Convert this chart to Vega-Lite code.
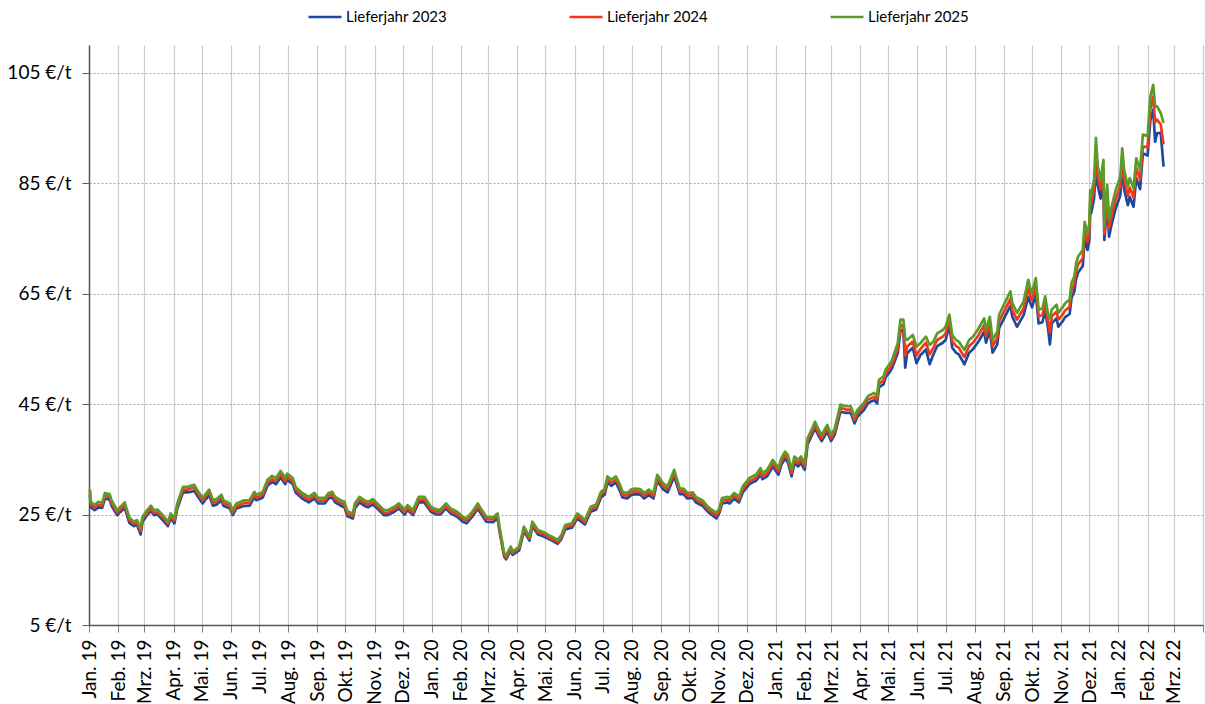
{
"$schema": "https://vega.github.io/schema/vega-lite/v6.json",
"width": 1114, "height": 580,
"autosize": {"type": "none"},
"padding": {"left": 89, "top": 45, "right": 2, "bottom": 79},
"background": "white",
"config": {"font": "Lato", "view": {"stroke": null}},
"data": {"values": [
{"d":"2019-01-02","2023":28.5,"2024":29.0,"2025":29.5},
{"d":"2019-01-03","2023":26.3,"2024":26.8,"2025":27.3},
{"d":"2019-01-07","2023":25.8,"2024":26.2,"2025":26.7},
{"d":"2019-01-11","2023":26.3,"2024":26.8,"2025":27.3},
{"d":"2019-01-15","2023":26.2,"2024":26.6,"2025":27.1},
{"d":"2019-01-18","2023":27.9,"2024":28.4,"2025":28.9},
{"d":"2019-01-23","2023":27.7,"2024":28.2,"2025":28.7},
{"d":"2019-01-25","2023":26.6,"2024":27.1,"2025":27.6},
{"d":"2019-01-31","2023":24.9,"2024":25.3,"2025":25.8},
{"d":"2019-02-08","2023":26.2,"2024":26.7,"2025":27.2},
{"d":"2019-02-13","2023":23.5,"2024":24.0,"2025":24.4},
{"d":"2019-02-18","2023":22.9,"2024":23.3,"2025":23.7},
{"d":"2019-02-21","2023":23.2,"2024":23.6,"2025":24.0},
{"d":"2019-02-25","2023":21.4,"2024":22.0,"2025":22.6},
{"d":"2019-02-27","2023":23.7,"2024":24.2,"2025":24.6},
{"d":"2019-03-04","2023":24.9,"2024":25.3,"2025":25.8},
{"d":"2019-03-08","2023":25.7,"2024":26.1,"2025":26.6},
{"d":"2019-03-11","2023":24.9,"2024":25.3,"2025":25.8},
{"d":"2019-03-15","2023":25.0,"2024":25.4,"2025":25.9},
{"d":"2019-03-22","2023":23.7,"2024":24.2,"2025":24.6},
{"d":"2019-03-26","2023":22.9,"2024":23.3,"2025":23.7},
{"d":"2019-03-29","2023":24.3,"2024":24.7,"2025":25.2},
{"d":"2019-04-02","2023":23.4,"2024":23.9,"2025":24.3},
{"d":"2019-04-05","2023":26.1,"2024":26.5,"2025":27.0},
{"d":"2019-04-11","2023":29.0,"2024":29.5,"2025":30.0},
{"d":"2019-04-16","2023":29.0,"2024":29.5,"2025":30.0},
{"d":"2019-04-19","2023":29.1,"2024":29.7,"2025":30.2},
{"d":"2019-04-23","2023":29.3,"2024":29.9,"2025":30.4},
{"d":"2019-04-26","2023":28.5,"2024":29.0,"2025":29.5},
{"d":"2019-05-02","2023":27.0,"2024":27.5,"2025":28.0},
{"d":"2019-05-06","2023":27.9,"2024":28.4,"2025":28.9},
{"d":"2019-05-09","2023":28.5,"2024":29.0,"2025":29.5},
{"d":"2019-05-13","2023":26.6,"2024":27.1,"2025":27.6},
{"d":"2019-05-17","2023":26.8,"2024":27.3,"2025":27.8},
{"d":"2019-05-22","2023":27.6,"2024":28.1,"2025":28.6},
{"d":"2019-05-24","2023":26.6,"2024":27.1,"2025":27.6},
{"d":"2019-05-31","2023":26.1,"2024":26.5,"2025":27.0},
{"d":"2019-06-03","2023":24.9,"2024":25.3,"2025":25.8},
{"d":"2019-06-07","2023":26.1,"2024":26.5,"2025":27.0},
{"d":"2019-06-14","2023":26.5,"2024":27.0,"2025":27.5},
{"d":"2019-06-21","2023":26.6,"2024":27.1,"2025":27.6},
{"d":"2019-06-26","2023":28.1,"2024":28.6,"2025":29.1},
{"d":"2019-06-28","2023":27.6,"2024":28.1,"2025":28.6},
{"d":"2019-07-03","2023":27.9,"2024":28.4,"2025":28.9},
{"d":"2019-07-05","2023":28.1,"2024":28.6,"2025":29.1},
{"d":"2019-07-10","2023":30.2,"2024":30.7,"2025":31.3},
{"d":"2019-07-15","2023":30.9,"2024":31.4,"2025":32.0},
{"d":"2019-07-19","2023":30.5,"2024":31.0,"2025":31.6},
{"d":"2019-07-24","2023":31.7,"2024":32.3,"2025":32.9},
{"d":"2019-07-29","2023":30.5,"2024":31.0,"2025":31.6},
{"d":"2019-07-31","2023":31.3,"2024":31.8,"2025":32.4},
{"d":"2019-08-06","2023":30.5,"2024":31.0,"2025":31.6},
{"d":"2019-08-09","2023":29.0,"2024":29.5,"2025":30.0},
{"d":"2019-08-16","2023":27.9,"2024":28.4,"2025":28.9},
{"d":"2019-08-23","2023":27.2,"2024":27.7,"2025":28.2},
{"d":"2019-08-29","2023":27.9,"2024":28.4,"2025":28.9},
{"d":"2019-09-02","2023":27.0,"2024":27.5,"2025":28.0},
{"d":"2019-09-09","2023":27.0,"2024":27.5,"2025":28.0},
{"d":"2019-09-13","2023":27.9,"2024":28.4,"2025":28.9},
{"d":"2019-09-17","2023":28.1,"2024":28.6,"2025":29.1},
{"d":"2019-09-20","2023":27.2,"2024":27.7,"2025":28.2},
{"d":"2019-09-26","2023":26.6,"2024":27.1,"2025":27.6},
{"d":"2019-09-30","2023":26.3,"2024":26.8,"2025":27.3},
{"d":"2019-10-03","2023":24.7,"2024":25.1,"2025":25.6},
{"d":"2019-10-09","2023":24.3,"2024":24.7,"2025":25.2},
{"d":"2019-10-11","2023":26.1,"2024":26.5,"2025":27.0},
{"d":"2019-10-16","2023":27.2,"2024":27.7,"2025":28.2},
{"d":"2019-10-21","2023":26.6,"2024":27.1,"2025":27.6},
{"d":"2019-10-25","2023":26.3,"2024":26.8,"2025":27.3},
{"d":"2019-10-30","2023":26.8,"2024":27.3,"2025":27.8},
{"d":"2019-11-04","2023":26.1,"2024":26.5,"2025":27.0},
{"d":"2019-11-11","2023":24.9,"2024":25.3,"2025":25.8},
{"d":"2019-11-15","2023":24.9,"2024":25.3,"2025":25.8},
{"d":"2019-11-22","2023":25.5,"2024":25.9,"2025":26.4},
{"d":"2019-11-27","2023":26.1,"2024":26.5,"2025":27.0},
{"d":"2019-12-03","2023":25.0,"2024":25.4,"2025":25.9},
{"d":"2019-12-06","2023":25.8,"2024":26.2,"2025":26.7},
{"d":"2019-12-12","2023":24.9,"2024":25.3,"2025":25.8},
{"d":"2019-12-18","2023":27.2,"2024":27.7,"2025":28.2},
{"d":"2019-12-24","2023":27.2,"2024":27.7,"2025":28.2},
{"d":"2019-12-31","2023":25.5,"2024":25.9,"2025":26.4},
{"d":"2020-01-06","2023":25.0,"2024":25.4,"2025":25.9},
{"d":"2020-01-10","2023":25.0,"2024":25.4,"2025":25.9},
{"d":"2020-01-16","2023":26.1,"2024":26.5,"2025":27.0},
{"d":"2020-01-21","2023":25.2,"2024":25.6,"2025":26.1},
{"d":"2020-01-28","2023":24.6,"2024":25.0,"2025":25.5},
{"d":"2020-02-03","2023":23.7,"2024":24.2,"2025":24.6},
{"d":"2020-02-07","2023":23.4,"2024":23.9,"2025":24.3},
{"d":"2020-02-13","2023":24.6,"2024":25.0,"2025":25.5},
{"d":"2020-02-19","2023":26.1,"2024":26.5,"2025":27.0},
{"d":"2020-02-21","2023":25.5,"2024":25.9,"2025":26.4},
{"d":"2020-02-28","2023":23.7,"2024":24.2,"2025":24.6},
{"d":"2020-03-06","2023":23.6,"2024":24.1,"2025":24.5},
{"d":"2020-03-11","2023":24.3,"2024":24.7,"2025":25.2},
{"d":"2020-03-13","2023":22.0,"2024":22.4,"2025":22.8},
{"d":"2020-03-18","2023":17.4,"2024":17.7,"2025":18.0},
{"d":"2020-03-20","2023":16.9,"2024":17.2,"2025":17.6},
{"d":"2020-03-25","2023":18.5,"2024":18.9,"2025":19.2},
{"d":"2020-03-27","2023":17.7,"2024":18.0,"2025":18.3},
{"d":"2020-04-03","2023":18.5,"2024":18.9,"2025":19.2},
{"d":"2020-04-08","2023":22.0,"2024":22.4,"2025":22.8},
{"d":"2020-04-14","2023":20.3,"2024":20.6,"2025":21.0},
{"d":"2020-04-17","2023":22.9,"2024":23.3,"2025":23.7},
{"d":"2020-04-23","2023":21.4,"2024":21.8,"2025":22.2},
{"d":"2020-04-28","2023":21.1,"2024":21.5,"2025":21.9},
{"d":"2020-05-04","2023":20.6,"2024":20.9,"2025":21.3},
{"d":"2020-05-08","2023":20.3,"2024":20.6,"2025":21.0},
{"d":"2020-05-14","2023":19.7,"2024":20.0,"2025":20.4},
{"d":"2020-05-18","2023":20.6,"2024":20.9,"2025":21.3},
{"d":"2020-05-22","2023":22.3,"2024":22.7,"2025":23.1},
{"d":"2020-05-29","2023":22.6,"2024":23.0,"2025":23.4},
{"d":"2020-06-04","2023":24.3,"2024":24.7,"2025":25.2},
{"d":"2020-06-08","2023":23.7,"2024":24.2,"2025":24.6},
{"d":"2020-06-12","2023":23.2,"2024":23.6,"2025":24.0},
{"d":"2020-06-18","2023":25.5,"2024":25.9,"2025":26.4},
{"d":"2020-06-24","2023":25.9,"2024":26.3,"2025":26.8},
{"d":"2020-06-29","2023":28.1,"2024":28.6,"2025":29.1},
{"d":"2020-07-03","2023":28.6,"2024":29.1,"2025":29.6},
{"d":"2020-07-06","2023":30.8,"2024":31.3,"2025":31.9},
{"d":"2020-07-10","2023":30.2,"2024":30.7,"2025":31.3},
{"d":"2020-07-15","2023":30.8,"2024":31.3,"2025":31.9},
{"d":"2020-07-20","2023":29.0,"2024":29.6,"2025":30.1},
{"d":"2020-07-22","2023":28.1,"2024":28.6,"2025":29.1},
{"d":"2020-07-27","2023":27.9,"2024":28.4,"2025":28.9},
{"d":"2020-07-31","2023":28.5,"2024":29.0,"2025":29.5},
{"d":"2020-08-04","2023":28.7,"2024":29.2,"2025":29.7},
{"d":"2020-08-10","2023":28.6,"2024":29.1,"2025":29.6},
{"d":"2020-08-14","2023":27.9,"2024":28.4,"2025":28.9},
{"d":"2020-08-19","2023":28.5,"2024":29.0,"2025":29.5},
{"d":"2020-08-24","2023":27.9,"2024":28.4,"2025":28.9},
{"d":"2020-08-28","2023":31.1,"2024":31.6,"2025":32.2},
{"d":"2020-09-03","2023":29.6,"2024":30.1,"2025":30.7},
{"d":"2020-09-08","2023":29.0,"2024":29.6,"2025":30.1},
{"d":"2020-09-15","2023":31.9,"2024":32.5,"2025":33.1},
{"d":"2020-09-21","2023":28.7,"2024":29.2,"2025":29.7},
{"d":"2020-09-25","2023":28.7,"2024":29.2,"2025":29.7},
{"d":"2020-09-29","2023":27.9,"2024":28.4,"2025":28.9},
{"d":"2020-10-05","2023":28.0,"2024":28.5,"2025":29.0},
{"d":"2020-10-08","2023":27.2,"2024":27.7,"2025":28.2},
{"d":"2020-10-15","2023":26.6,"2024":27.1,"2025":27.6},
{"d":"2020-10-21","2023":25.5,"2024":25.9,"2025":26.4},
{"d":"2020-10-23","2023":25.2,"2024":25.6,"2025":26.1},
{"d":"2020-10-30","2023":24.3,"2024":24.8,"2025":25.3},
{"d":"2020-11-02","2023":25.2,"2024":25.6,"2025":26.1},
{"d":"2020-11-05","2023":27.0,"2024":27.5,"2025":28.0},
{"d":"2020-11-11","2023":27.2,"2024":27.7,"2025":28.2},
{"d":"2020-11-13","2023":27.0,"2024":27.5,"2025":28.0},
{"d":"2020-11-18","2023":27.9,"2024":28.4,"2025":28.9},
{"d":"2020-11-23","2023":27.2,"2024":27.7,"2025":28.2},
{"d":"2020-11-27","2023":29.0,"2024":29.6,"2025":30.1},
{"d":"2020-12-04","2023":30.5,"2024":31.0,"2025":31.6},
{"d":"2020-12-11","2023":31.1,"2024":31.6,"2025":32.2},
{"d":"2020-12-16","2023":32.2,"2024":32.8,"2025":33.4},
{"d":"2020-12-18","2023":31.4,"2024":31.9,"2025":32.5},
{"d":"2020-12-23","2023":31.9,"2024":32.5,"2025":33.1},
{"d":"2020-12-29","2023":33.7,"2024":34.3,"2025":34.9},
{"d":"2021-01-04","2023":32.2,"2024":32.8,"2025":33.4},
{"d":"2021-01-07","2023":34.0,"2024":34.6,"2025":35.2},
{"d":"2021-01-11","2023":35.1,"2024":35.7,"2025":36.4},
{"d":"2021-01-14","2023":34.5,"2024":35.2,"2025":35.8},
{"d":"2021-01-18","2023":31.9,"2024":32.5,"2025":33.1},
{"d":"2021-01-21","2023":34.3,"2024":34.9,"2025":35.5},
{"d":"2021-01-25","2023":33.7,"2024":34.3,"2025":34.9},
{"d":"2021-01-28","2023":34.3,"2024":34.9,"2025":35.5},
{"d":"2021-02-01","2023":33.1,"2024":33.7,"2025":34.3},
{"d":"2021-02-04","2023":37.7,"2024":38.3,"2025":38.8},
{"d":"2021-02-09","2023":39.5,"2024":40.0,"2025":40.6},
{"d":"2021-02-12","2023":40.6,"2024":41.2,"2025":41.8},
{"d":"2021-02-16","2023":39.2,"2024":39.7,"2025":40.3},
{"d":"2021-02-19","2023":38.3,"2024":38.8,"2025":39.4},
{"d":"2021-02-25","2023":40.0,"2024":40.6,"2025":41.2},
{"d":"2021-03-01","2023":38.3,"2024":38.8,"2025":39.4},
{"d":"2021-03-05","2023":39.5,"2024":40.0,"2025":40.6},
{"d":"2021-03-11","2023":43.6,"2024":44.3,"2025":44.9},
{"d":"2021-03-17","2023":43.4,"2024":44.0,"2025":44.6},
{"d":"2021-03-22","2023":43.4,"2024":44.0,"2025":44.6},
{"d":"2021-03-26","2023":41.5,"2024":42.1,"2025":42.7},
{"d":"2021-03-29","2023":42.7,"2024":43.3,"2025":43.9},
{"d":"2021-04-05","2023":43.9,"2024":44.6,"2025":45.2},
{"d":"2021-04-09","2023":45.1,"2024":45.8,"2025":46.4},
{"d":"2021-04-12","2023":45.4,"2024":46.0,"2025":46.7},
{"d":"2021-04-16","2023":45.7,"2024":46.3,"2025":47.0},
{"d":"2021-04-19","2023":45.1,"2024":45.8,"2025":46.4},
{"d":"2021-04-21","2023":48.0,"2024":48.7,"2025":49.4},
{"d":"2021-04-26","2023":48.6,"2024":49.3,"2025":50.0},
{"d":"2021-04-28","2023":49.8,"2024":50.5,"2025":51.2},
{"d":"2021-05-03","2023":50.9,"2024":51.6,"2025":52.4},
{"d":"2021-05-05","2023":51.5,"2024":52.2,"2025":53.0},
{"d":"2021-05-11","2023":54.2,"2024":55.0,"2025":56.0},
{"d":"2021-05-14","2023":58.4,"2024":59.3,"2025":60.3},
{"d":"2021-05-17","2023":58.2,"2024":59.2,"2025":60.3},
{"d":"2021-05-19","2023":51.6,"2024":53.8,"2025":56.9},
{"d":"2021-05-21","2023":54.2,"2024":55.4,"2025":56.6},
{"d":"2021-05-27","2023":55.2,"2024":56.3,"2025":57.5},
{"d":"2021-05-31","2023":52.4,"2024":53.8,"2025":55.4},
{"d":"2021-06-04","2023":53.8,"2024":54.9,"2025":56.0},
{"d":"2021-06-10","2023":54.9,"2024":56.1,"2025":57.2},
{"d":"2021-06-14","2023":52.2,"2024":54.0,"2025":55.7},
{"d":"2021-06-18","2023":54.0,"2024":55.2,"2025":56.3},
{"d":"2021-06-22","2023":55.5,"2024":56.6,"2025":57.8},
{"d":"2021-06-28","2023":56.1,"2024":57.2,"2025":58.4},
{"d":"2021-07-01","2023":56.6,"2024":57.8,"2025":59.0},
{"d":"2021-07-05","2023":59.3,"2024":60.2,"2025":61.2},
{"d":"2021-07-08","2023":55.2,"2024":56.4,"2025":57.5},
{"d":"2021-07-12","2023":54.3,"2024":55.5,"2025":56.6},
{"d":"2021-07-15","2023":54.0,"2024":55.2,"2025":56.3},
{"d":"2021-07-21","2023":52.2,"2024":53.5,"2025":54.8},
{"d":"2021-07-26","2023":54.3,"2024":55.5,"2025":56.6},
{"d":"2021-07-30","2023":54.9,"2024":56.1,"2025":57.2},
{"d":"2021-08-04","2023":56.1,"2024":57.2,"2025":58.4},
{"d":"2021-08-06","2023":56.6,"2024":57.8,"2025":59.0},
{"d":"2021-08-11","2023":58.1,"2024":59.3,"2025":60.5},
{"d":"2021-08-13","2023":56.1,"2024":57.2,"2025":58.4},
{"d":"2021-08-17","2023":58.4,"2024":59.6,"2025":60.8},
{"d":"2021-08-20","2023":54.3,"2024":55.5,"2025":56.6},
{"d":"2021-08-25","2023":55.8,"2024":56.9,"2025":58.1},
{"d":"2021-08-27","2023":58.8,"2024":60.0,"2025":61.2},
{"d":"2021-09-02","2023":60.8,"2024":62.0,"2025":63.3},
{"d":"2021-09-08","2023":62.8,"2024":64.1,"2025":65.4},
{"d":"2021-09-10","2023":60.8,"2024":62.0,"2025":63.3},
{"d":"2021-09-15","2023":59.0,"2024":60.3,"2025":61.5},
{"d":"2021-09-17","2023":59.6,"2024":60.9,"2025":62.1},
{"d":"2021-09-22","2023":61.1,"2024":62.3,"2025":63.6},
{"d":"2021-09-27","2023":64.4,"2024":65.9,"2025":67.5},
{"d":"2021-09-29","2023":63.4,"2024":64.7,"2025":66.0},
{"d":"2021-10-01","2023":62.5,"2024":63.8,"2025":65.1},
{"d":"2021-10-05","2023":65.0,"2024":66.4,"2025":67.8},
{"d":"2021-10-08","2023":59.6,"2024":60.9,"2025":62.1},
{"d":"2021-10-12","2023":59.8,"2024":61.1,"2025":62.3},
{"d":"2021-10-15","2023":61.9,"2024":63.2,"2025":64.5},
{"d":"2021-10-18","2023":58.8,"2024":60.0,"2025":61.2},
{"d":"2021-10-20","2023":55.8,"2024":58.0,"2025":60.5},
{"d":"2021-10-22","2023":59.6,"2024":60.9,"2025":62.1},
{"d":"2021-10-27","2023":60.5,"2024":61.7,"2025":63.0},
{"d":"2021-10-29","2023":59.0,"2024":60.3,"2025":61.5},
{"d":"2021-11-03","2023":60.1,"2024":61.3,"2025":62.6},
{"d":"2021-11-05","2023":60.7,"2024":61.9,"2025":63.2},
{"d":"2021-11-10","2023":61.3,"2024":62.6,"2025":63.9},
{"d":"2021-11-12","2023":64.2,"2024":65.6,"2025":66.9},
{"d":"2021-11-15","2023":65.4,"2024":66.7,"2025":68.1},
{"d":"2021-11-17","2023":67.7,"2024":69.1,"2025":70.5},
{"d":"2021-11-19","2023":68.8,"2024":70.3,"2025":71.7},
{"d":"2021-11-24","2023":70.0,"2024":71.4,"2025":72.9},
{"d":"2021-11-26","2023":74.9,"2024":76.4,"2025":78.0},
{"d":"2021-11-29","2023":72.9,"2024":74.4,"2025":75.9},
{"d":"2021-12-01","2023":74.6,"2024":76.1,"2025":77.7},
{"d":"2021-12-02","2023":80.4,"2024":82.0,"2025":83.7},
{"d":"2021-12-03","2023":79.6,"2024":81.2,"2025":82.9},
{"d":"2021-12-06","2023":82.2,"2024":83.9,"2025":85.6},
{"d":"2021-12-08","2023":87.6,"2024":89.5,"2025":93.2},
{"d":"2021-12-10","2023":84.5,"2024":86.2,"2025":88.0},
{"d":"2021-12-13","2023":82.2,"2024":83.9,"2025":85.6},
{"d":"2021-12-16","2023":85.6,"2024":87.4,"2025":89.2},
{"d":"2021-12-17","2023":74.7,"2024":75.8,"2025":77.2},
{"d":"2021-12-20","2023":81.3,"2024":83.0,"2025":84.7},
{"d":"2021-12-22","2023":75.3,"2024":76.8,"2025":78.4},
{"d":"2021-12-24","2023":77.0,"2024":78.6,"2025":80.2},
{"d":"2021-12-29","2023":80.4,"2024":82.0,"2025":83.7},
{"d":"2022-01-03","2023":82.8,"2024":84.5,"2025":86.2},
{"d":"2022-01-05","2023":88.9,"2024":89.8,"2025":91.3},
{"d":"2022-01-07","2023":83.9,"2024":85.7,"2025":87.4},
{"d":"2022-01-11","2023":81.0,"2024":82.7,"2025":84.4},
{"d":"2022-01-13","2023":82.5,"2024":84.2,"2025":85.9},
{"d":"2022-01-17","2023":80.7,"2024":82.4,"2025":84.1},
{"d":"2022-01-20","2023":85.9,"2024":87.7,"2025":89.5},
{"d":"2022-01-24","2023":83.9,"2024":85.7,"2025":87.4},
{"d":"2022-01-27","2023":90.4,"2024":91.6,"2025":93.8},
{"d":"2022-02-01","2023":90.0,"2024":91.5,"2025":93.5},
{"d":"2022-02-04","2023":96.5,"2024":98.5,"2025":100.7},
{"d":"2022-02-07","2023":98.3,"2024":100.7,"2025":102.8},
{"d":"2022-02-09","2023":92.5,"2024":96.0,"2025":98.9},
{"d":"2022-02-11","2023":94.0,"2024":96.5,"2025":98.9},
{"d":"2022-02-15","2023":94.1,"2024":95.6,"2025":97.7},
{"d":"2022-02-18","2023":88.0,"2024":92.0,"2025":95.9}
]},
"transform": [{"fold": ["2023", "2024", "2025"], "as": ["jahr", "wert"]}],
"mark": {"type": "line", "strokeWidth": 2.7, "strokeJoin": "round"},
"encoding": {
  "x": {"field": "d", "type": "temporal",
    "scale": {"type": "utc", "domain": [{"year": 2019, "month": 1, "date": 1, "utc": true}, {"year": 2022, "month": 4, "date": 1, "utc": true}]},
    "axis": {"title": null, "tickCount": {"interval": "month", "step": 1},
      "labelExpr": "(utcyear(datum.value) == 2022 && utcmonth(datum.value) == 3) ? '' : ['Jan.','Feb.','Mrz.','Apr.','Mai.','Jun.','Jul.','Aug.','Sep.','Okt.','Nov.','Dez.'][utcmonth(datum.value)] + ' ' + utcFormat(datum.value, '%y')",
      "labelAngle": -90, "labelFontSize": 19, "labelColor": "#000000", "labelPadding": 7, "labelOverlap": false, "labelFlush": false, "labelBound": false,
      "tickSize": 7, "tickColor": "#7f7f7f", "domainColor": "#595959", "domainWidth": 1.5,
      "grid": true, "gridColor": "#cccccc", "gridWidth": 1.2}},
  "y": {"field": "wert", "type": "quantitative",
    "scale": {"domain": [5, 110], "nice": false, "zero": false},
    "axis": {"title": null, "values": [5, 25, 45, 65, 85, 105], "labelExpr": "datum.value + ' €/t'",
      "labelFontSize": 19, "labelColor": "#000000", "labelPadding": 11,
      "tickSize": 7, "tickColor": "#595959", "domainColor": "#595959", "domainWidth": 1.5,
      "grid": true, "gridColor": "#a6a6a6", "gridDash": [2, 2], "gridWidth": 1}},
  "color": {"field": "jahr", "type": "nominal",
    "scale": {"domain": ["2023", "2024", "2025"], "range": ["#1B4A9E", "#EE3A1A", "#5C9B29"]},
    "legend": {"orient": "none", "legendX": 218, "legendY": -46, "direction": "horizontal", "title": null,
      "symbolType": "stroke", "symbolStrokeWidth": 2.5, "symbolSize": 1089, "labelFontSize": 15, "labelColor": "#000000",
      "labelOffset": 3, "columnPadding": 116, "padding": 0,
      "labelExpr": "'Lieferjahr ' + datum.label"}}
}
}
